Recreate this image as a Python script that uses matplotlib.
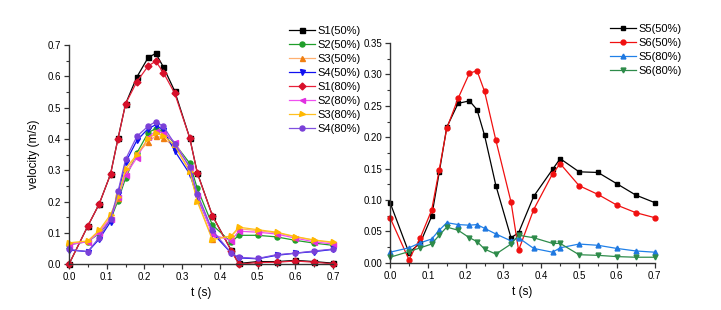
import matplotlib
matplotlib.use("Agg")
import matplotlib.pyplot as plt
from matplotlib.ticker import MultipleLocator, FormatStrFormatter

plt.rcParams["font.family"] = ["Liberation Sans", "DejaVu Sans"]

# sample times (s), shared by every series
t = [0.0, 0.05, 0.08, 0.11, 0.13, 0.15, 0.18, 0.21, 0.23, 0.25, 0.28,
     0.32, 0.34, 0.38, 0.43, 0.45, 0.5, 0.55, 0.6, 0.65, 0.7]

# ---- left panel: S1..S4 velocities (m/s) ----
s1_50 = [0.0, 0.122, 0.192, 0.287, 0.402, 0.512, 0.598, 0.660, 0.673, 0.630, 0.553,
         0.403, 0.292, 0.155, 0.044, 0.002, 0.008, 0.008, 0.012, 0.008, 0.003]
s2_50 = [0.062, 0.072, 0.098, 0.142, 0.203, 0.275, 0.355, 0.420, 0.433, 0.425, 0.385,
         0.322, 0.242, 0.125, 0.070, 0.092, 0.092, 0.087, 0.076, 0.067, 0.060]
s3_50 = [0.065, 0.073, 0.105, 0.150, 0.210, 0.290, 0.352, 0.390, 0.410, 0.402, 0.375,
         0.300, 0.205, 0.080, 0.090, 0.113, 0.107, 0.100, 0.087, 0.076, 0.068]
s4_50 = [0.045, 0.040, 0.080, 0.135, 0.225, 0.325, 0.395, 0.433, 0.445, 0.428, 0.362,
         0.288, 0.215, 0.100, 0.035, 0.020, 0.017, 0.028, 0.035, 0.040, 0.047]
s1_80 = [0.0, 0.122, 0.192, 0.287, 0.401, 0.512, 0.583, 0.633, 0.648, 0.612, 0.546,
         0.403, 0.291, 0.155, 0.043, 0.000, 0.005, 0.006, 0.010, 0.006, 0.001]
s2_80 = [0.062, 0.072, 0.100, 0.145, 0.215, 0.285, 0.340, 0.405, 0.425, 0.420, 0.390,
         0.310, 0.220, 0.095, 0.075, 0.105, 0.102, 0.096, 0.083, 0.071, 0.064]
s3_80 = [0.068, 0.074, 0.108, 0.158, 0.215, 0.305, 0.350, 0.400, 0.418, 0.410, 0.380,
         0.295, 0.200, 0.078, 0.090, 0.118, 0.110, 0.102, 0.088, 0.077, 0.070]
s4_80 = [0.047, 0.040, 0.085, 0.143, 0.232, 0.335, 0.408, 0.441, 0.455, 0.440, 0.385,
         0.310, 0.225, 0.108, 0.035, 0.022, 0.018, 0.030, 0.035, 0.042, 0.048]

# ---- right panel: S5, S6 velocities (m/s) ----
s5_50 = [0.096, 0.016, 0.032, 0.074, 0.144, 0.216, 0.254, 0.258, 0.244, 0.203, 0.123,
         0.040, 0.048, 0.106, 0.149, 0.166, 0.145, 0.144, 0.126, 0.108, 0.096]
s6_50 = [0.072, 0.005, 0.040, 0.084, 0.148, 0.214, 0.262, 0.302, 0.306, 0.273, 0.195,
         0.097, 0.020, 0.085, 0.142, 0.158, 0.123, 0.109, 0.092, 0.080, 0.072]
s5_80 = [0.017, 0.024, 0.032, 0.038, 0.052, 0.064, 0.061, 0.060, 0.061, 0.055, 0.046,
         0.035, 0.040, 0.023, 0.017, 0.024, 0.030, 0.028, 0.023, 0.019, 0.017]
s6_80 = [0.009, 0.018, 0.024, 0.030, 0.044, 0.057, 0.052, 0.040, 0.034, 0.022, 0.014,
         0.030, 0.044, 0.040, 0.031, 0.031, 0.013, 0.012, 0.010, 0.009, 0.009]

# (label, values, line colour, marker colour, marker)
left_series = [
    ("S1(50%)", s1_50, "#000000", "#000000", "s"),
    ("S2(50%)", s2_50, "#1f9e2a", "#1f9e2a", "o"),
    ("S3(50%)", s3_50, "#ffb070", "#f07f10", "^"),
    ("S4(50%)", s4_50, "#1010f0", "#1010f0", "v"),
    ("S1(80%)", s1_80, "#e8203a", "#d8102a", "D"),
    ("S2(80%)", s2_80, "#f050f0", "#e030e0", "<"),
    ("S3(80%)", s3_80, "#ffc020", "#ffb800", ">"),
    ("S4(80%)", s4_80, "#8050e0", "#7a40d8", "o"),
]
right_series = [
    ("S5(50%)", s5_50, "#000000", "#000000", "s"),
    ("S6(50%)", s6_50, "#f01010", "#f01010", "o"),
    ("S5(80%)", s5_80, "#2080e8", "#1f78e0", "^"),
    ("S6(80%)", s6_80, "#2e8b4a", "#2e8b4a", "v"),
]


def style_axes(ax, ymax, ymajor):
    for side in ("top", "right"):
        ax.spines[side].set_visible(False)
    for side in ("left", "bottom"):
        ax.spines[side].set_linewidth(1.0)
        ax.spines[side].set_color("#333333")
    ax.set_xlim(0, 0.7)
    ax.set_ylim(0, ymax)
    ax.xaxis.set_major_locator(MultipleLocator(0.1))
    ax.xaxis.set_minor_locator(MultipleLocator(0.05))
    ax.yaxis.set_major_locator(MultipleLocator(ymajor))
    ax.yaxis.set_minor_locator(MultipleLocator(ymajor / 2))
    ax.xaxis.set_major_formatter(FormatStrFormatter("%.1f"))
    ax.tick_params(which="major", direction="out", length=3.5, width=0.9,
                   labelsize=7, pad=2, color="#333333")
    ax.tick_params(which="minor", direction="out", length=2, width=0.8,
                   color="#333333")
    ax.set_xlabel("t (s)", fontsize=8.5, labelpad=4)


def add_legend(ax, x_px, y_px):
    ax.legend(loc="upper left", bbox_to_anchor=(x_px / 721, 1 - y_px / 310),
              bbox_transform=ax.figure.transFigure, frameon=False, fontsize=8,
              handlelength=2.3, handletextpad=0.3, labelspacing=0.36,
              borderaxespad=0, borderpad=0)


fig = plt.figure(figsize=(7.21, 3.10), dpi=100)
ax1 = fig.add_axes([0.0957, 0.148, 0.3663, 0.707])
ax2 = fig.add_axes([0.541, 0.152, 0.367, 0.709])

for label, y, lc, mc, m in left_series:
    ax1.plot(t, y, color=lc, lw=0.9, marker=m, ms=3.5 if m == "D" else 3.6,
             mfc=mc, mec=mc, label=label, clip_on=False)
style_axes(ax1, 0.7, 0.1)
ax1.yaxis.set_major_formatter(FormatStrFormatter("%.1f"))
ax1.set_ylabel("velocity (m/s)", fontsize=8.5, labelpad=6)
add_legend(ax1, 289, 26)

for label, y, lc, mc, m in right_series:
    ax2.plot(t, y, color=lc, lw=0.9, marker=m, ms=3.5, mfc=mc, mec=mc,
             label=label, clip_on=False)
style_axes(ax2, 0.35, 0.05)
ax2.yaxis.set_major_formatter(FormatStrFormatter("%.2f"))
add_legend(ax2, 610, 24)

fig.savefig("out.png", dpi=100)
